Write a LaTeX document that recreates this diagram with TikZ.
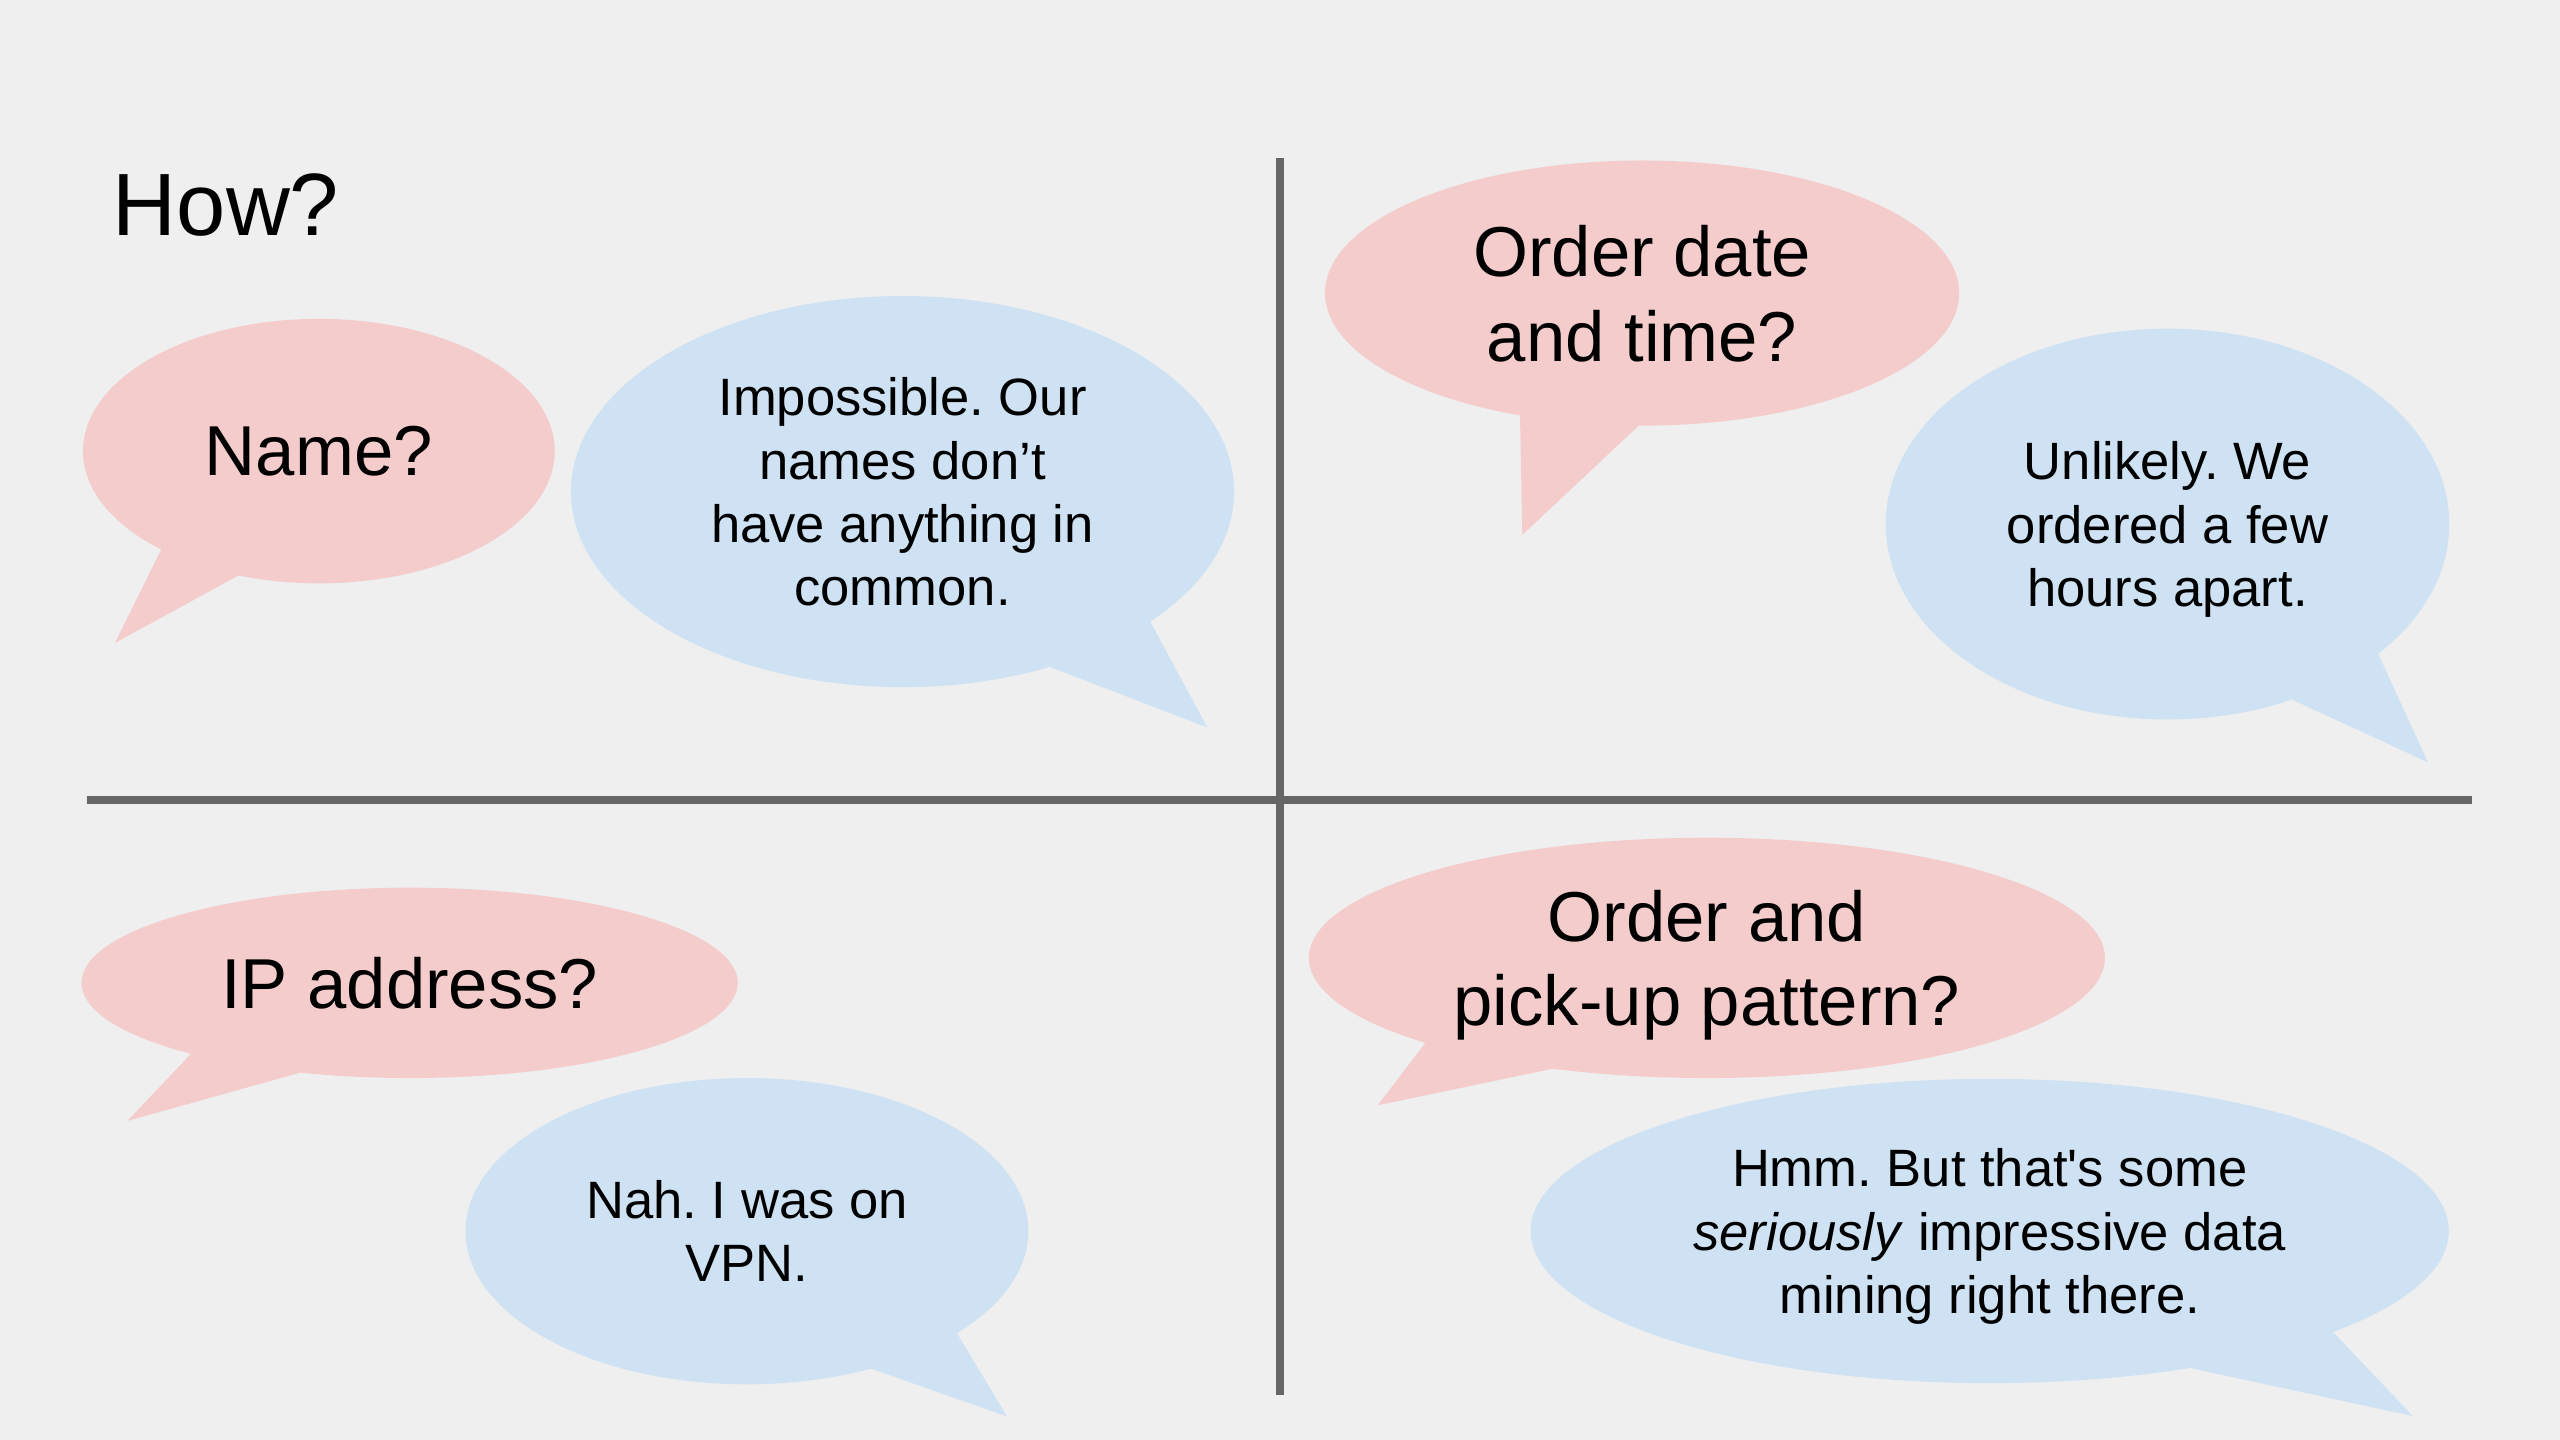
\documentclass[tikz,border=0pt]{standalone}
\usepackage{fontspec}
\setmainfont{Liberation Sans}
\usetikzlibrary{shapes.geometric}
\definecolor{bgcol}{HTML}{EFEFEF}
\definecolor{pinkb}{HTML}{F4CCCC}
\definecolor{blueb}{HTML}{CFE2F3}
\definecolor{rulecol}{HTML}{666666}
\frenchspacing
\begin{document}
\begin{tikzpicture}[x=1pt,y=-1pt,
  bubble/.style={ellipse, inner sep=0pt, outer sep=0pt, align=center, text depth=0pt, text=black},
  pinkbub/.style={bubble, fill=pinkb, font=\fontsize{43.3}{52}\selectfont},
  bluebub/.style={bubble, fill=blueb, font=\fontsize{32.2}{38.7}\selectfont},
  pinktail/.style={fill=pinkb},
  bluetail/.style={fill=blueb},
  divider/.style={draw=rulecol, line width=4.9pt}]
\fill[bgcol] (0,0) rectangle (1568,882);
\useasboundingbox (0,0) rectangle (1568,882);

% dividers
\coordinate (vt) at (783.8,96.8);
\coordinate (vb) at (783.8,854.5);
\coordinate (hl) at (53.5,490.3);
\coordinate (hr) at (1514.2,490.3);
\draw[divider] (vt) -- (vb);
\draw[divider] (hl) -- (hr);

% title
\node[anchor=base west, inner sep=0pt, font=\fontsize{54.2}{60}\selectfont] (how) at (69,144.5) {How?};

% Name?
\coordinate (c1) at (195.3,276.3);
\fill[pinktail] (98.6,336.9) -- (70.4,393.8) -- (145.9,352.6) -- (c1) -- cycle;
\node[pinkbub, minimum width=289pt, minimum height=162pt] (name) at (c1) {Name?};

% Impossible
\coordinate (c2) at (552.8,301.1);
\fill[bluetail] (704.4,380.5) -- (739.5,445.6) -- (642.5,408.3) -- (c2) -- cycle;
\node[bluebub, minimum width=406.2pt, minimum height=239.6pt] (imp) at (c2) {Impossible. Our\\names don’t\\have anything in\\common.};

% Order date and time?
\coordinate (c3) at (1005.8,179.5);
\fill[pinktail] (931,254.4) -- (932.4,327.7) -- (1003.7,260.7) -- (c3) -- cycle;
\node[pinkbub, minimum width=388.4pt, minimum height=162.4pt] (date) at (c3) {Order date\\and time?};

% Unlikely
\coordinate (c4) at (1327.6,321);
\fill[bluetail] (1456.7,400.7) -- (1487.1,466.9) -- (1404.2,428.7) -- (c4) -- cycle;
\node[bluebub, minimum width=345.2pt, minimum height=239.4pt] (unl) at (c4) {Unlikely. We\\ordered a few\\hours apart.};

% IP address?
\coordinate (c5) at (250.9,602);
\fill[pinktail] (117.3,645.1) -- (78,686.6) -- (183.4,657.1) -- (c5) -- cycle;
\node[pinkbub, minimum width=402pt, minimum height=116.6pt] (ip) at (c5) {IP address?};

% Nah
\coordinate (c6) at (457.5,754.1);
\fill[bluetail] (585.9,816.2) -- (616.8,867.6) -- (533.4,838.2) -- (c6) -- cycle;
\node[bluebub, minimum width=344.8pt, minimum height=187.6pt] (nah) at (c6) {Nah. I was on\\VPN.};

% Order and pick-up pattern?
\coordinate (c7) at (1045.5,586.7);
\fill[pinktail] (872.9,638.9) -- (843.8,677) -- (950.6,654.7) -- (c7) -- cycle;
\node[pinkbub, minimum width=487.6pt, minimum height=147.2pt] (pat) at (c7) {Order and\\pick-up pattern?};

% Hmm
\coordinate (c8) at (1218.7,754);
\fill[bluetail] (1429.5,816.4) -- (1477.8,867.3) -- (1342.8,838.2) -- (c8) -- cycle;
\node[bluebub, minimum width=562.4pt, minimum height=186.4pt] (hmm) at (c8) {Hmm. But that\textquotesingle s some\\\textit{seriously} impressive data\\mining right there.};
\end{tikzpicture}
\end{document}
